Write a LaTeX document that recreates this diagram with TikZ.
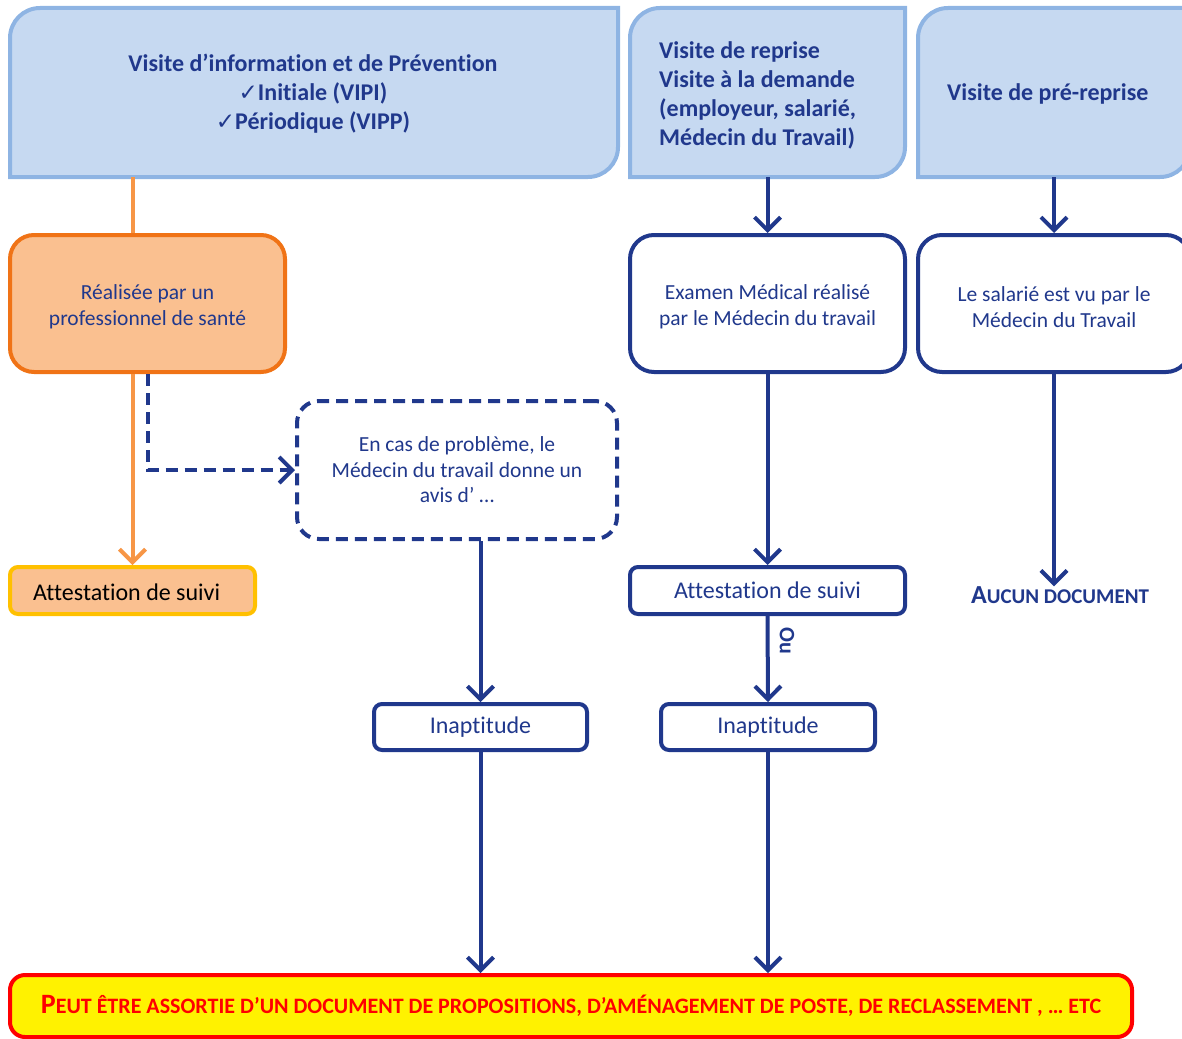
\documentclass[tikz,border=0pt]{standalone}
\usepackage{fontspec}
\setmainfont{Carlito}[Ligatures=NoCommon]
\newfontfamily\dejavu{DejaVu Sans}
\usetikzlibrary{arrows.meta,calc}
\definecolor{topfill}{HTML}{C6D9F1}
\definecolor{topline}{HTML}{8EB4E3}
\definecolor{navy}{HTML}{20388C}
\definecolor{ofill}{HTML}{FAC090}
\definecolor{oline}{HTML}{F07316}
\definecolor{oarrow}{HTML}{F79646}
\definecolor{gold}{HTML}{FFC000}
\newcommand\ck{{\dejavu\fontsize{23}{20}\selectfont ✓}}
\begin{document}
\begin{tikzpicture}[x=1pt,y=-1pt,
  topbox/.style={draw=topline,fill=topfill,line width=4pt},
  toptext/.style={text=navy,font=\bfseries\fontsize{24}{29}\selectfont,inner sep=0pt},
  navybox/.style={draw=navy,fill=white,line width=4pt,rounded corners=24pt,text=navy,
     font=\fontsize{21.5}{26}\selectfont,align=center,inner sep=0pt},
  smallbox/.style={draw=navy,fill=white,line width=4pt,rounded corners=8pt,text=navy,
     font=\fontsize{24}{26}\selectfont,align=center,inner sep=0pt},
  tip/.style={-{Straight Barb[length=13pt,width=26pt]}},
  arr/.style={draw=navy,line width=4pt,tip},
  dashline/.style={draw=navy,line width=4pt,dash pattern=on 12pt off 7pt},
  oarr/.style={draw=oarrow,line width=4pt,tip},
]
\useasboundingbox (0,0) rectangle (1182,1038);

% top boxes (rounded top-left and bottom-right corners)
\path[topbox] (10,177) -- (10,38) arc[start angle=180,end angle=270,radius=30] -- (618,8) -- (618,147) arc[start angle=0,end angle=90,radius=30] -- cycle;
\path[topbox] (630,177) -- (630,38) arc[start angle=180,end angle=270,radius=30] -- (905,8) -- (905,147) arc[start angle=0,end angle=90,radius=30] -- cycle;
\path[topbox] (918,177) -- (918,38) arc[start angle=180,end angle=270,radius=30] -- (1190,8) -- (1190,147) arc[start angle=0,end angle=90,radius=30] -- cycle;

\node[minimum width=608pt,minimum height=169pt,inner sep=0pt,outer sep=0pt] (t1) at (314,92.5) {};
\node[minimum width=275pt,minimum height=169pt,inner sep=0pt,outer sep=0pt] (t2) at (767.5,92.5) {};
\node[minimum width=272pt,minimum height=169pt,inner sep=0pt,outer sep=0pt] (t3) at (1054,92.5) {};

\node[toptext,align=center] (t1text) at (313,94) {Visite d’information et de Prévention\\\ck Initiale (VIPI)\\\ck Périodique (VIPP)};
\node[toptext,align=left,anchor=west] (t2text) at (659,95) {Visite de reprise\\Visite à la demande\\(employeur, salarié,\\Médecin du Travail)};
\node[toptext,anchor=west] (t3text) at (947,94) {Visite de pré-reprise};

% column 1
\node[draw=oline,fill=ofill,line width=4pt,rounded corners=24pt,text=navy,
  font=\fontsize{21.5}{26}\selectfont,align=center,inner sep=0pt,
  minimum width=275pt,minimum height=137pt] (ob) at (147.5,303.5) {\\[-4pt]Réalisée par un\\professionnel de santé};
\node[draw=gold,fill=ofill,line width=4pt,rounded corners=8pt,inner sep=0pt,
  minimum width=245pt,minimum height=47pt] (att1) at (132.5,590.5) {};
\node[anchor=west,font=\fontsize{24}{26}\selectfont,inner sep=0pt] (att1text) at (33,592) {Attestation de suivi};

\node[draw=navy,fill=white,line width=4pt,rounded corners=22pt,dash pattern=on 12pt off 7pt,
  text=navy,font=\fontsize{21.5}{25.5}\selectfont,align=center,inner sep=0pt,
  minimum width=320pt,minimum height=138pt] (db) at (457,470) {En cas de problème, le\\Médecin du travail donne un\\avis d’ …};
\node[smallbox,minimum width=213pt,minimum height=46pt] (in1) at (480.5,727) {Inaptitude};

% column 2
\node[navybox,minimum width=275pt,minimum height=137pt] (e2) at (767.5,303.5) {\\[-4pt]Examen Médical réalisé\\par le Médecin du travail};
\node[smallbox,minimum width=275pt,minimum height=47pt] (att2) at (767.5,590.5) {Attestation de suivi};
\node[smallbox,minimum width=214pt,minimum height=46pt] (in2) at (768,727) {Inaptitude};

% column 3
\node[navybox,minimum width=272pt,minimum height=137pt] (e3) at (1054,303.5) {\\[-4pt]Le salarié est vu par le\\Médecin du Travail};
\node[text=navy,font=\bfseries,inner sep=0pt] (none) at (1060,595) {\fontsize{26}{28}\selectfont A\fontsize{21}{28}\selectfont UCUN DOCUMENT};

% bottom box
\node[draw=red,fill=yellow,line width=4pt,rounded corners=15pt,text=red,font=\bfseries,
  inner sep=0pt,minimum width=1122pt,minimum height=62pt] (bot) at (571,1006)
  {\fontsize{28}{30}\selectfont P\fontsize{22}{30}\selectfont EUT ÊTRE ASSORTIE D’UN DOCUMENT DE PROPOSITIONS, D’AMÉNAGEMENT DE POSTE, DE RECLASSEMENT , … ETC};

% connectors
\coordinate (c1) at ([xshift=123pt]t1.south west);
\draw[draw=oarrow,line width=4pt] (c1) -- (c1 |- ob.north);
\draw[oarr] (att1.north |- ob.south) -- (att1.north);
\draw[dashline,tip] (ob.south) |- (db.west);
\draw[arr] (db.south -| in1.north) -- (in1.north);
\draw[arr] (in1.south) -- (in1.south |- bot.north);

\draw[arr] (t2.south) -- (e2.north);
\draw[arr] (e2.south) -- (att2.north);
\draw[arr] (att2.south) -- node[pos=0.29,rotate=-90,anchor=south,yshift=5pt,text=navy,font=\bfseries\fontsize{22}{22}\selectfont,inner sep=5pt] (ou) {Ou} (in2.north);
\draw[arr] (in2.south) -- (in2.south |- bot.north);

\draw[arr] (t3.south) -- (e3.north);
\draw[arr] (e3.south) -- (e3.south |- none.north);
\end{tikzpicture}
\end{document}
